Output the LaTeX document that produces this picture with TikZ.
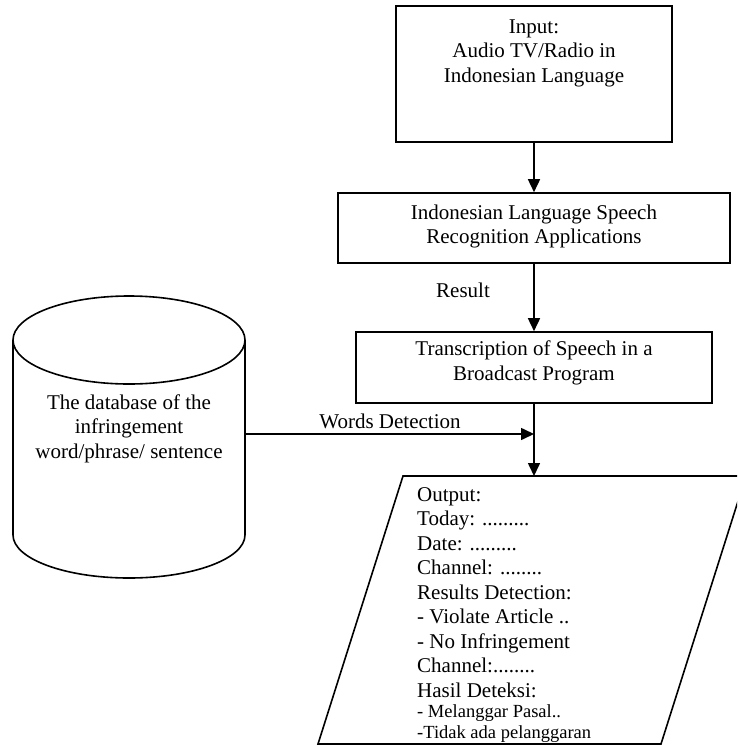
\documentclass[tikz,border=0pt]{standalone}
\usepackage{fontspec}
\setmainfont{Liberation Serif}
\usetikzlibrary{arrows.meta}
\begin{document}
\begin{tikzpicture}[x=1pt,y=-1pt,
  lw/.style={line width=1.6pt},
  box/.style={draw, lw, inner sep=0pt},
  txt/.style={font=\fontsize{21}{24.5}\selectfont, align=center, inner sep=0pt},
  otxt/.style={font=\fontsize{21}{24.5}\selectfont, align=left, inner sep=0pt, anchor=base west},
  stxt/.style={font=\fontsize{18.5}{20.5}\selectfont, align=left, inner sep=0pt, anchor=base west},
  conn/.style={lw, -{Triangle[length=13pt,width=12pt]}}]
\useasboundingbox (0,0) rectangle (737,747);

% boxes
\node[box, minimum width=276pt, minimum height=136pt] (in) at (534,74) {};
\node[txt] (intext) at (534,53) {Input:\\Audio TV/Radio in\\Indonesian Language};
\node[box, minimum width=392pt, minimum height=70pt] (rec) at (534,228) {};
\node[txt] (rectext) at (534,226.5) {Indonesian Language Speech\\Recognition Applications};
\node[box, minimum width=356pt, minimum height=71pt] (trans) at (534,367.5) {};
\node[txt] (transtext) at (534,363) {Transcription of Speech in a\\Broadcast Program};

% cylinder
\draw[lw, fill=white] (13,340) -- (13,535) arc[start angle=180, end angle=0, x radius=116, y radius=43] -- (245,340);
\draw[lw] (129,340) ellipse [x radius=116, y radius=44];
\node[txt] (db) at (129,428.5) {The database of the\\infringement\\word/phrase/ sentence};
\coordinate (dbR) at (245,434);
\coordinate (junc) at (534,434);

% output parallelogram
\begin{scope}
\clip (0,0) rectangle (737,747);
\draw[lw] (403,476) -- (746,476) -- (661,744) -- (318,744) -- cycle;
\end{scope}
\coordinate (outtop) at (534,476);
\node[otxt] (out1) at (417,697) {Output:\\Today: .........\\Date: .........\\Channel: ........\\Results Detection:\\- Violate Article ..\\- No Infringement\\Channel:........\\Hasil Deteksi:};
\node[stxt] (out2) at (417,738) {- Melanggar Pasal..\\-Tidak ada pelanggaran};

% connectors
\draw[conn] (in.south) -- (rec.north);
\draw[conn] (rec.south) -- (trans.north);
\draw[conn] (trans.south) -- (outtop);
\draw[conn] (dbR) -- (junc);

% labels
\node[txt] (result) at (463,290) {Result};
\node[txt] (wd) at (390,421) {Words Detection};
\end{tikzpicture}
\end{document}
